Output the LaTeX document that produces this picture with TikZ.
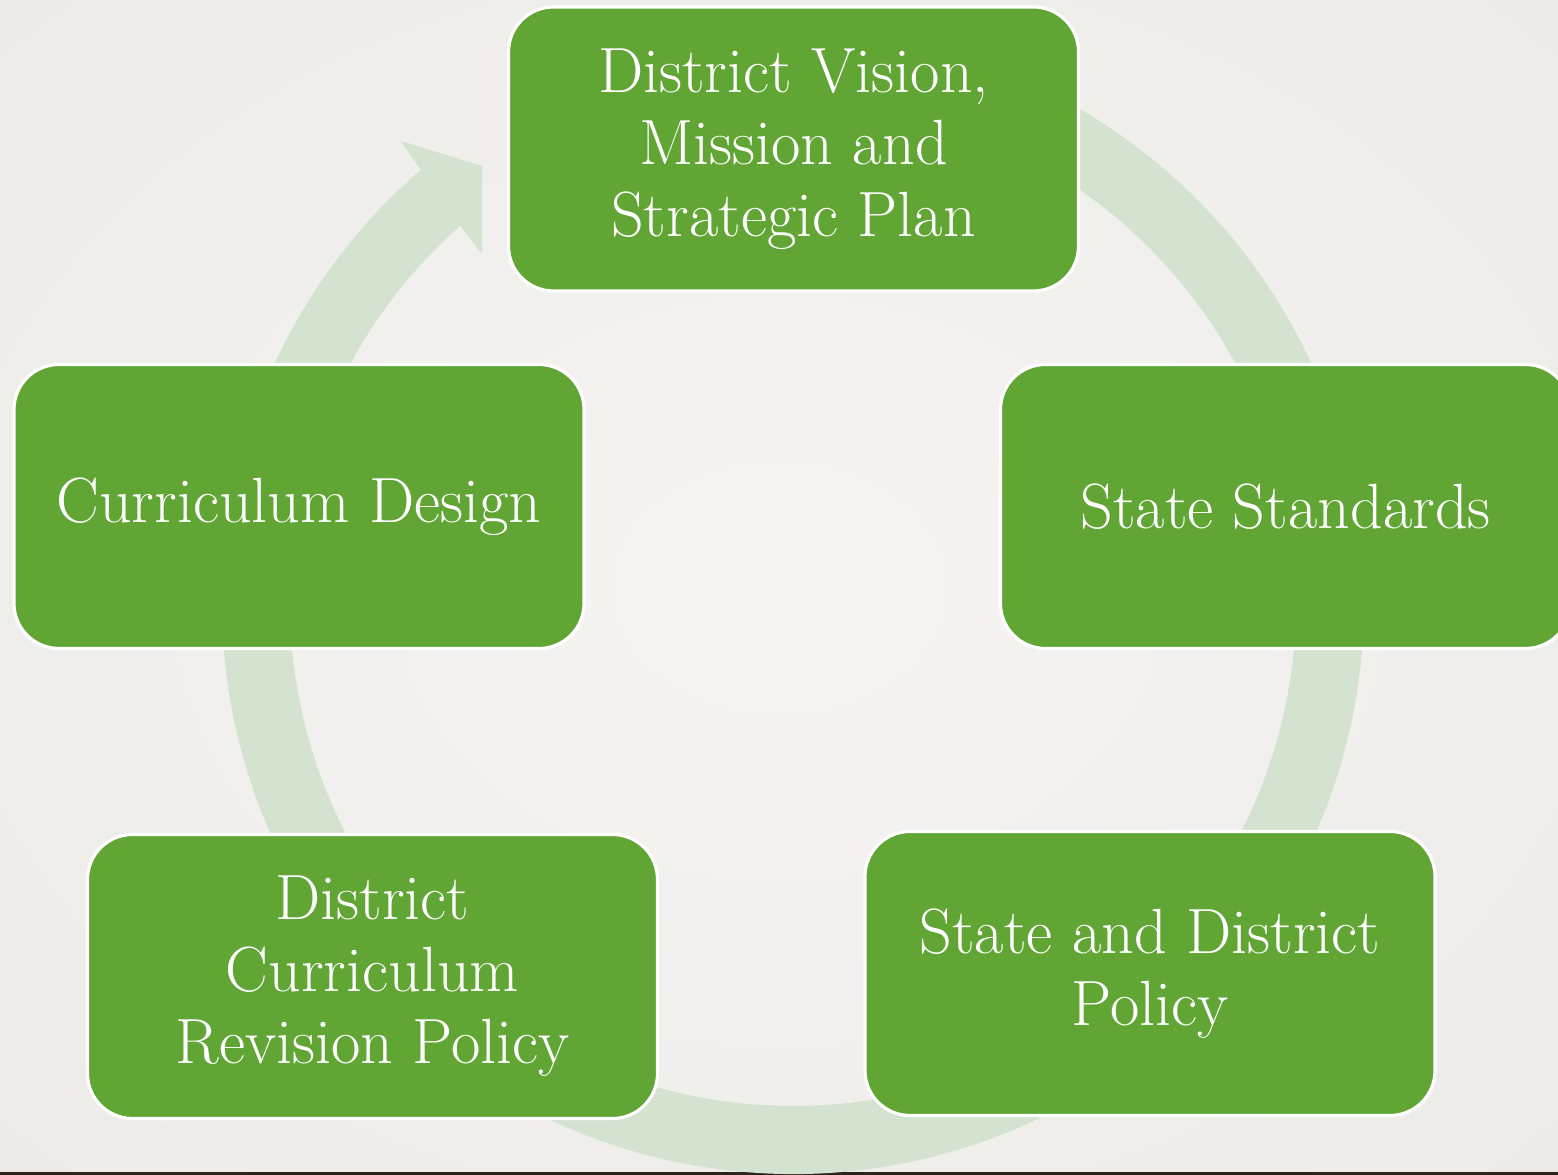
\documentclass[tikz,border=0pt]{standalone}
\definecolor{boxgreen}{RGB}{97,165,53}
\definecolor{ringgreen}{RGB}{212,227,208}
\definecolor{bgin}{RGB}{246,245,243}
\definecolor{bgout}{RGB}{226,225,221}
\definecolor{darkline}{RGB}{45,35,25}
\pgfdeclareradialshading{bgshade}{\pgfpoint{0bp}{0bp}}{color(0bp)=(bgin); color(71bp)=(bgout)}
\begin{document}
\begin{tikzpicture}[box/.style={draw=white,line width=0.9pt,fill=boxgreen,rounded corners=0.45cm,
    minimum width=5.70cm,minimum height=2.84cm,inner sep=0pt,align=center,text=white,
    font=\fontsize{18.2}{20.5}\selectfont}]
        \useasboundingbox (0,0) rectangle (15.58,11.75);
        \clip (0,0) rectangle (15.58,11.75);
        \shade[shading=bgshade] (0,0) rectangle (15.58,11.75);
        \fill[darkline] (0,0) rectangle (15.58,0.03);
        % cycle ring with its arrow head
        \coordinate (O) at (7.93,5.72);
        \fill[ringgreen] ([shift={(131.45:5.03)}]O) arc[start angle=131.45,end angle=440,radius=5.03]
          -- ++(80:0.68) arc[start angle=440,end angle=130.7,radius=5.71]
          -- (4.01,10.34) -- (4.82,10.09) -- (4.82,9.21) -- cycle;
        \node[box] (V) at (7.935,10.26) {District Vision,\\Mission and\\Strategic Plan};
        \node[box] (S) at (12.855,6.685) {State Standards};
        \node[box] (P) at (11.50,2.015) {State and District\\Policy};
        \node[box] (R) at (3.725,1.985) {District\\Curriculum\\Revision Policy};
        \node[box] (D) at (2.99,6.685) {Curriculum Design};
\end{tikzpicture}
\end{document}
